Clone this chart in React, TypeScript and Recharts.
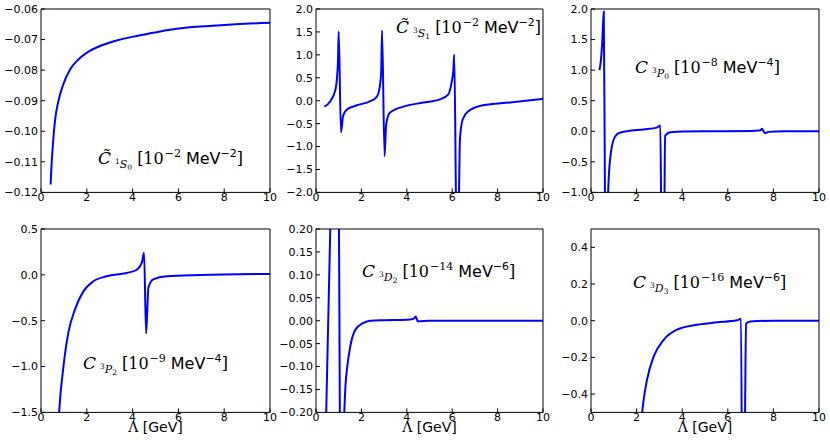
import { Line, LineChart, XAxis, YAxis } from "recharts";

// Λ grid in GeV and coefficient values
const lambdaTicks = [0, 2, 4, 6, 8, 10];

const s0Lambda = [0.42, 0.46, 0.51, 0.61, 0.76, 0.97, 1.27, 1.63, 2.04, 2.58, 3.3, 4.18, 4.9, 5.56, 6.5, 7.5, 8.5, 10];
const s0Values = [-0.1174, -0.111, -0.1054, -0.0966, -0.0901, -0.0847, -0.0798, -0.0765, -0.0741, -0.0721, -0.0703, -0.0688, -0.0678, -0.0669, -0.066, -0.0655, -0.065, -0.0645];

const s1Lambda = [0.37, 0.63, 0.85, 0.92, 0.97, 1.0, 1.1, 1.19, 1.36, 1.8, 2.39, 2.68, 2.8, 2.87, 2.91, 3.02, 3.09, 3.26, 3.85, 4.73, 5.46, 5.83, 5.97, 6.05, 6.09, 6.17, 6.23, 6.3, 6.34, 6.46, 6.71, 7.36, 8.54, 10];
const s1Values = [-0.13, -0.01, 0.23, 0.47, 0.9, 1.51, -0.69, -0.34, -0.19, -0.1, -0.01, 0.09, 0.28, 0.61, 1.53, -1.21, -0.52, -0.26, -0.13, -0.04, 0.03, 0.14, 0.39, 0.65, 1.01, -2.3, -4, -2.05, -0.85, -0.41, -0.23, -0.1, -0.04, 0.04];

const p0Lambda = [0.37, 0.44, 0.5, 0.56, 0.62, 0.7, 0.74, 0.79, 0.85, 0.92, 1.0, 1.14, 1.3, 1.58, 2.31, 2.89, 3.04, 3.1, 3.2, 3.25, 3.48, 4.06, 5.5, 7.0, 7.43, 7.5, 7.62, 7.79, 8.45, 10];
const p0Values = [1.0, 1.18, 1.51, 1.96, -1.6, -4, -1.2, -0.68, -0.42, -0.24, -0.13, -0.05, -0.02, 0.0, 0.03, 0.06, 0.095, -2.0, -2.0, -0.07, -0.015, -0.003, 0.0, 0.005, 0.015, 0.04, -0.03, -0.01, 0, 0];

const p2Lambda = [0.4, 0.6, 0.79, 0.98, 1.19, 1.48, 1.85, 2.29, 2.87, 3.74, 4.18, 4.4, 4.5, 4.59, 4.69, 4.9, 5.49, 6.94, 10];
const p2Values = [-6, -2.6, -1.5, -1.0, -0.635, -0.38, -0.18, -0.07, -0.016, 0.02, 0.056, 0.13, 0.24, -0.64, -0.14, -0.05, -0.016, -0.002, 0.01];

const d2Lambda = [0.4, 0.7, 0.85, 1.0, 1.1, 1.2, 1.3, 1.36, 1.51, 1.73, 2.09, 2.39, 3.0, 4.0, 4.29, 4.39, 4.48, 5.0, 7.0, 10];
const d2Values = [-0.31, 0.36, 0.5, 0.26, -0.6, -0.28, -0.14, -0.107, -0.056, -0.02, -0.005, 0, 0.001, 0.002, 0.004, 0.009, -0.001, 0, 0, 0];

const d3Lambda = [0.4, 1.0, 1.5, 2.0, 2.3, 2.46, 2.75, 3.19, 3.77, 4.65, 5.53, 6.4, 6.58, 6.65, 6.75, 6.8, 6.99, 8, 10];
const d3Values = [-40, -10, -3, -0.9, -0.44, -0.32, -0.195, -0.104, -0.049, -0.022, -0.009, 0.002, 0.011, -1.5, -0.6, -0.016, -0.004, 0, 0];

const s0Ticks = [-0.12, -0.11, -0.1, -0.09, -0.08, -0.07, -0.06];
const s1Ticks = [-2, -1.5, -1, -0.5, 0, 0.5, 1, 1.5, 2];
const p0Ticks = [-1, -0.5, 0, 0.5, 1, 1.5, 2];
const p2Ticks = [-1.5, -1, -0.5, 0, 0.5];
const d2Ticks = [-0.2, -0.15, -0.1, -0.05, 0, 0.05, 0.1, 0.15, 0.2];
const d3Ticks = [-0.4, -0.2, 0, 0.2, 0.4];

const YW = 45;
const RM = 14;
const tickFont = { fill: "#000", fontSize: 11, fontFamily: "DejaVu Sans" };

type PanelProps = {
  left: number;
  top: number;
  width: number;
  height: number;
  lambda: number[];
  values: number[];
  yDomain: [number, number];
  yTicks: number[];
  digits: number;
};

function Panel({ left, top, width, height, lambda, values, yDomain, yTicks, digits }: PanelProps) {
  const data = lambda.map((x, i) => ({ x, y: values[i] }));
  const fmt = (v: number) => v.toFixed(digits).replace("-", "\u2212");
  return (
    <div style={{ position: "absolute", left: left - YW, top: top - 5 }}>
      <LineChart
        width={YW + width + RM}
        height={5 + height + 25}
        data={data}
        margin={{ top: 4, right: RM - 1, bottom: 0, left: 0 }}
      >
        <XAxis
          dataKey="x"
          type="number"
          domain={[0, 10]}
          ticks={lambdaTicks}
          interval={0}
          allowDataOverflow
          height={25}
          tickSize={-4}
          tickMargin={5}
          stroke="#000"
          tick={tickFont}
        />
        <XAxis
          xAxisId="top"
          orientation="top"
          type="number"
          domain={[0, 10]}
          ticks={lambdaTicks}
          interval={0}
          allowDataOverflow
          height={1}
          tickSize={-4}
          tick={false}
          stroke="#000"
        />
        <YAxis
          type="number"
          domain={yDomain}
          ticks={yTicks}
          interval={0}
          allowDataOverflow
          width={YW}
          tickSize={-4}
          tickMargin={7}
          stroke="#000"
          tick={tickFont}
          tickFormatter={fmt}
        />
        <YAxis
          yAxisId="right"
          orientation="right"
          type="number"
          domain={yDomain}
          ticks={yTicks}
          interval={0}
          allowDataOverflow
          width={1}
          tickSize={-4}
          tick={false}
          stroke="#000"
        />
        <Line
          dataKey="y"
          type="monotone"
          stroke="#0000ff"
          strokeWidth={2}
          dot={false}
          isAnimationActive={false}
        />
      </LineChart>
    </div>
  );
}

type TitleProps = {
  left: number;
  top: number;
  tilde?: boolean;
  spin: string;
  wave: string;
  j: string;
  power: string;
  unitPower: string;
};

const serif = "DejaVu Serif";
const sans = "DejaVu Sans";

function Title({ left, top, tilde, spin, wave, j, power, unitPower }: TitleProps) {
  return (
    <div
      style={{
        position: "absolute",
        left,
        top,
        fontSize: 16,
        lineHeight: "19px",
        whiteSpace: "nowrap",
        color: "#000",
      }}
    >
      <span style={{ fontFamily: serif, fontStyle: "italic", fontSize: 17 }}>{tilde ? "C\u0303" : "C"}</span>
      <span style={{ fontFamily: serif, fontStyle: "italic", fontSize: 11, position: "relative", top: 4, marginLeft: 4 }}>
        <span style={{ fontSize: 7.5, position: "relative", top: -4, fontStyle: "normal" }}>{spin}</span>
        {wave}
        <span style={{ fontSize: 7.5, position: "relative", top: 2, fontStyle: "normal" }}>{j}</span>
      </span>
      <span style={{ fontFamily: serif, marginLeft: 5 }}>[10</span>
      <span style={{ fontFamily: serif, fontSize: 11, position: "relative", top: -7, marginLeft: 1 }}>{"\u2212" + power}</span>
      <span style={{ fontFamily: sans, marginLeft: 5 }}>MeV</span>
      <span style={{ fontFamily: sans, fontSize: 11, position: "relative", top: -7 }}>{"\u2212" + unitPower}</span>
      <span style={{ fontFamily: serif }}>]</span>
    </div>
  );
}

function AxisTitle({ left, width }: { left: number; width: number }) {
  return (
    <div
      style={{
        position: "absolute",
        left,
        width,
        top: 420,
        textAlign: "center",
        fontSize: 14,
        lineHeight: "14px",
        whiteSpace: "nowrap",
      }}
    >
      <span style={{ fontFamily: serif }}>Λ</span>
      <span style={{ fontFamily: sans }}> [GeV]</span>
    </div>
  );
}

const topRow = 9.3;
const bottomRow = 229.3;
const plotH = 183.4;

export default function App() {
  return (
    <div style={{ position: "relative", width: 830, height: 447, background: "#fff", overflow: "hidden" }}>
      <style>{"body{margin:0}"}</style>
      <Panel left={41} top={topRow} width={229} height={plotH} lambda={s0Lambda} values={s0Values} yDomain={[-0.12, -0.06]} yTicks={s0Ticks} digits={2} />
      <Panel left={316} top={topRow} width={227} height={plotH} lambda={s1Lambda} values={s1Values} yDomain={[-2, 2]} yTicks={s1Ticks} digits={1} />
      <Panel left={591} top={topRow} width={228} height={plotH} lambda={p0Lambda} values={p0Values} yDomain={[-1, 2]} yTicks={p0Ticks} digits={1} />
      <Panel left={41} top={bottomRow} width={229} height={plotH} lambda={p2Lambda} values={p2Values} yDomain={[-1.5, 0.5]} yTicks={p2Ticks} digits={1} />
      <Panel left={316} top={bottomRow} width={227} height={plotH} lambda={d2Lambda} values={d2Values} yDomain={[-0.2, 0.2]} yTicks={d2Ticks} digits={2} />
      <Panel left={591} top={bottomRow} width={228} height={plotH} lambda={d3Lambda} values={d3Values} yDomain={[-0.5, 0.5]} yTicks={d3Ticks} digits={1} />

      <Title left={98} top={149} tilde spin="1" wave="S" j="0" power="2" unitPower="2" />
      <Title left={396} top={18} tilde spin="3" wave="S" j="1" power="2" unitPower="2" />
      <Title left={635} top={57.5} spin="3" wave="P" j="0" power="8" unitPower="4" />
      <Title left={83} top={354} spin="3" wave="P" j="2" power="9" unitPower="4" />
      <Title left={362} top={262} spin="3" wave="D" j="2" power="14" unitPower="6" />
      <Title left={633} top={273} spin="3" wave="D" j="3" power="16" unitPower="6" />

      <AxisTitle left={41} width={229} />
      <AxisTitle left={316} width={227} />
      <AxisTitle left={591} width={228} />
    </div>
  );
}
